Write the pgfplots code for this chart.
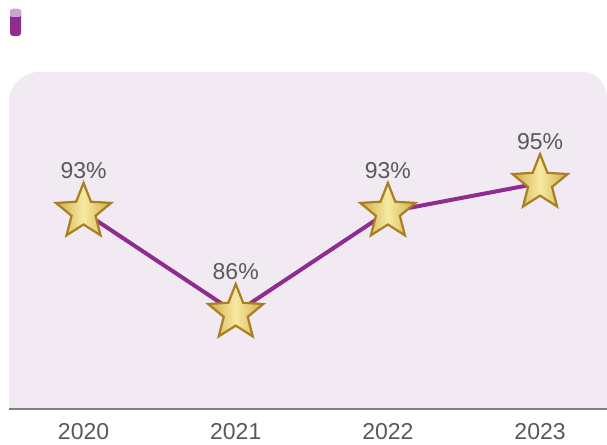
\documentclass[border=0pt]{standalone}
\usepackage{pgfplots}
\pgfplotsset{compat=1.18}
\usepackage{fontspec}
\setmainfont{Liberation Sans}
\definecolor{bgc}{HTML}{F2EAF3}
\definecolor{linec}{HTML}{8E2D8E}
\definecolor{txt}{HTML}{595959}
\definecolor{axc}{HTML}{7F7F7F}
\definecolor{stardark}{HTML}{A97E24}
\definecolor{starmid}{HTML}{D2AC45}
\definecolor{starlight}{HTML}{F6EAA2}
\definecolor{iconlight}{HTML}{CDA3CF}
\pgfdeclareplotmark{gstar}{%
  \path[draw=stardark, line width=2.2pt, left color=starmid, right color=starmid,
        middle color=starlight, line join=miter]
    (90:29pt) -- (126:12.6pt) -- (162:29pt) -- (198:12.6pt) -- (234:29pt) -- (270:12.6pt)
    -- (306:29pt) -- (342:12.6pt) -- (18:29pt) -- (54:12.6pt) -- cycle;%
}
\begin{document}
\begin{tikzpicture}[x=1pt,y=1pt]
\useasboundingbox (0,0) rectangle (607,444);
% icon
\fill[linec, rounded corners=3pt] (10,408) rectangle (21,435);
\fill[iconlight, rounded corners=2pt] (10,427) rectangle (21,435);
\fill[linec] (10,424) rectangle (21,427);
% background panel
\fill[bgc] (9,35) -- (9,342) arc[start angle=180, end angle=90, radius=30] -- (582,372) arc[start angle=90, end angle=0, radius=25] -- (607,35) -- cycle;
\begin{axis}[
  at={(9pt,35pt)}, anchor=south west,
  scale only axis, width=598pt, height=337pt,
  xmin=-0.49, xmax=3.44, ymin=79.35, ymax=102.69,
  axis line style={draw=none},
  axis x line*=bottom, axis y line=none,
  xtick={0,1,2,3}, xticklabels={2020,2021,2022,2023},
  xtick style={draw=none},
  xticklabel style={font=\fontsize{23}{26}\selectfont, text=txt, yshift=-11pt},
  clip=false,
  /pgf/number format/assume math mode=true,
  nodes near coords={\pgfmathprintnumber{\pgfplotspointmeta}\%},
  point meta=y,
  every node near coord/.style={anchor=center, yshift=41pt, font=\fontsize{23}{26}\selectfont, text=txt},
]
\addplot[linec, line width=4pt, mark=gstar] coordinates {(0,93) (1,86) (2,93) (3,95)};
\end{axis}
\draw[axc, line width=1.5pt] (9,35) -- (607,35);
\end{tikzpicture}
\end{document}
